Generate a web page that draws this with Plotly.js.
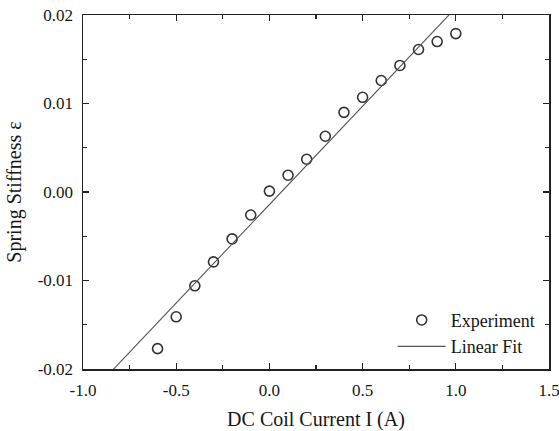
<!DOCTYPE html>
<html>
<head>
<meta charset="utf-8">
<script src="https://cdn.plot.ly/plotly-3.0.1.min.js"></script>
<style>html,body{margin:0;padding:0;background:#fff;}#chart{width:559px;height:431px;}</style>
</head>
<body>
<div id="chart"></div>
<script>
// Data
const currentA = [-0.6, -0.5, -0.4, -0.3, -0.2, -0.1, 0.0, 0.1, 0.2, 0.3, 0.4, 0.5, 0.6, 0.7, 0.8, 0.9, 1.0];
const stiffness = [-0.0177, -0.0141, -0.0106, -0.0079, -0.0053, -0.0026, 0.0001, 0.0019, 0.0037, 0.0063, 0.0090, 0.0107, 0.0126, 0.0143, 0.0161, 0.0170, 0.0179];
const xRange = [-1.0, 1.5];
const yRange = [-0.02, 0.02];
const xTickVals = [-1.0, -0.5, 0.0, 0.5, 1.0, 1.5];
const xTickText = ["-1.0", "-0.5", "0.0", "0.5", "1.0", "1.5"];
const yTickVals = [-0.02, -0.01, 0.0, 0.01, 0.02];
const yTickText = ["-0.02", "-0.01", "0.00", "0.01", "0.02"];
const seriesNames = ["Experiment", "Linear Fit"];

// Least-squares linear fit of the experimental points
const n = currentA.length;
const mx = currentA.reduce((a, b) => a + b, 0) / n;
const my = stiffness.reduce((a, b) => a + b, 0) / n;
let sxy = 0, sxx = 0;
for (let i = 0; i < n; i++) { sxy += (currentA[i] - mx) * (stiffness[i] - my); sxx += (currentA[i] - mx) ** 2; }
const slope = sxy / sxx;
const intercept = my - slope * mx;
const fitX = xRange.slice();
const fitY = fitX.map(x => intercept + slope * x);

const fontFam = '"Liberation Serif", "Times New Roman", serif';
const txt = '#161616';
const axisCommon = {
  showline: true, linecolor: '#222', linewidth: 1.5, mirror: 'ticks',
  ticks: 'inside', ticklen: 6, tickwidth: 1.3, tickcolor: '#222',
  showgrid: false, zeroline: false,
  tickfont: {family: fontFam, size: 17, color: txt},
  ticklabelstandoff: 5, ticklabeloverflow: 'allow'
};

const traces = [
  {x: currentA, y: stiffness, mode: 'markers', type: 'scatter', name: seriesNames[0],
   marker: {symbol: 'circle-open', size: 10, color: '#333', line: {width: 1.6, color: '#333'}}},
  {x: fitX, y: fitY, mode: 'lines', type: 'scatter', name: seriesNames[1],
   line: {color: '#555', width: 1.1}}
];

const layout = {
  width: 559, height: 431,
  margin: {l: 83, r: 10, t: 15, b: 62},
  paper_bgcolor: '#fff', plot_bgcolor: '#fff',
  showlegend: true,
  legend: {x: 0.98, xanchor: 'right', y: 0.012, yanchor: 'bottom', bgcolor: 'rgba(0,0,0,0)',
           itemwidth: 48,
           font: {family: fontFam, size: 18, color: txt}, tracegroupgap: 0},
  xaxis: Object.assign({}, axisCommon, {
    range: xRange, tickvals: xTickVals, ticktext: xTickText,
    minor: {ticks: 'inside', dtick: 0.25, ticklen: 4, tickwidth: 1.2, tickcolor: '#222'},
    title: {text: 'DC Coil Current I (A)', font: {family: fontFam, size: 20, color: txt}, standoff: 13}
  }),
  yaxis: Object.assign({}, axisCommon, {
    range: yRange, tickvals: yTickVals, ticktext: yTickText,
    minor: {ticks: 'inside', dtick: 0.005, ticklen: 4, tickwidth: 1.2, tickcolor: '#222'},
    title: {text: 'Spring Stiffness ε', font: {family: fontFam, size: 20, color: txt}, standoff: 10}
  })
};

Plotly.newPlot('chart', traces, layout, {displayModeBar: false, staticPlot: true});
</script>
</body>
</html>
